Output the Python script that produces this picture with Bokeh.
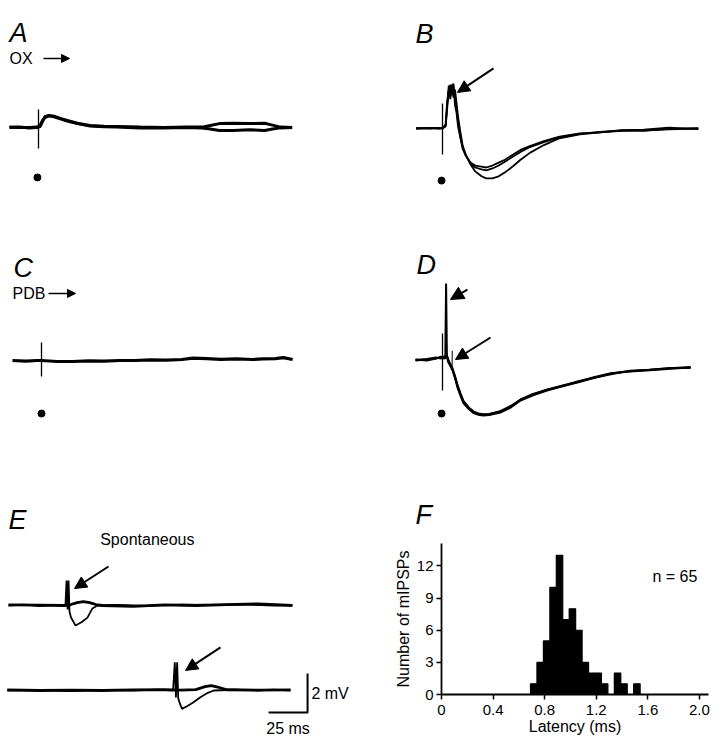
from bokeh.plotting import figure
from bokeh.layouts import column, row
from bokeh.models import Range1d, Arrow, NormalHead, FixedTicker
from bokeh.core.properties import value
from bokeh.embed import file_html
from bokeh.resources import INLINE

# ---------------- data (time in ms from stimulus, voltage in mV from baseline) -------------
# Panel A (OX stimulation)
A_t = [-18.6, -12, -6, -1, 1, 2.5, 4, 6.6, 10, 14, 18.4, 25, 33, 42, 50, 65, 80, 95, 105, 110,
       116, 125, 135, 145, 150, 155, 162.6]
A_v1 = [0, 0.03, -0.02, 0, 0.05, 0.3, 0.55, 0.62, 0.58, 0.47, 0.36, 0.22, 0.1, 0.06, 0.05, 0.02,
        0, 0.03, 0.02, 0.1, 0.2, 0.22, 0.2, 0.22, 0.12, 0.02, 0]
A_v2 = [0.02, 0, 0, 0.02, 0.08, 0.35, 0.5, 0.6, 0.55, 0.44, 0.33, 0.2, 0.08, 0.04, 0.02, -0.02,
        -0.02, 0, -0.03, -0.08, -0.15, -0.15, -0.12, -0.15, -0.08, -0.02, 0]
A_artifact = [0.92, -1.08]

# Panel B (OX stimulation, three sweeps)
B_t = [-17, -8, -2, 0, 2, 3, 4, 5, 6, 7, 8, 9, 10, 11.5, 13, 15, 18, 21, 25, 28, 32, 36, 40, 45,
       50, 56, 65, 75, 88, 101, 115, 129, 145, 164]
B_v1 = [0, 0.03, 0, 0.02, 0.1, 1.0, 2.2, 1.5, 2.25, 1.6, 2.0, 1.3, 0.6, -0.2, -0.9, -1.35, -1.85,
        -2.2, -2.45, -2.56, -2.56, -2.45, -2.25, -1.95, -1.6, -1.25, -0.85, -0.5, -0.3, -0.2,
        -0.12, -0.1, -0.05, 0]
B_v2 = [0.02, 0, 0.03, 0, 0.15, 1.2, 1.9, 2.25, 1.7, 2.2, 1.5, 1.0, 0.3, -0.4, -1.0, -1.4, -1.8,
        -2.0, -2.1, -2.15, -2.05, -1.9, -1.7, -1.45, -1.2, -0.95, -0.7, -0.45, -0.28, -0.18, -0.1,
        -0.12, -0.02, 0.02]
B_v3 = [0, 0.02, 0, 0.03, 0.2, 1.4, 2.0, 1.7, 2.1, 2.3, 1.2, 0.8, 0.1, -0.5, -1.05, -1.4, -1.75,
        -1.9, -1.95, -2.0, -1.9, -1.75, -1.6, -1.35, -1.1, -0.9, -0.65, -0.42, -0.25, -0.2, -0.08,
        -0.06, 0.04, -0.03]
B_artifact = [1.28, -1.33]

# Panel C (PDB stimulation)
C_t = [-18.6, -10, -3, 0, 10, 20, 30, 40, 50, 60, 70, 80, 90, 97, 106, 115, 125, 135, 142, 150,
       155, 161]
C_v = [0, -0.03, 0, 0, -0.05, -0.05, -0.02, -0.03, 0, 0, 0.03, 0.02, 0.05, 0.12, 0.1, 0.06, 0.08,
       0.05, 0.08, 0.1, 0.15, 0.05]
C_artifact = [0.92, -0.82]

# Panel D (PDB stimulation, three sweeps)
D_t = [-17.3, -10, -4, -1, 0.5, 1.8, 2.3, 2.8, 3.5, 4.5, 6.4, 8, 9.6, 11.5, 13.5, 17, 20, 23, 26,
       30, 37, 44, 50, 58, 67, 77, 86.5, 97, 108, 120, 133, 146, 159]
D_v1 = [0, 0.05, 0.12, 0.15, 0.1, 0.2, 3.95, 0.3, -0.05, -0.2, -0.5, -0.9, -1.38, -1.8, -2.2,
        -2.5, -2.7, -2.78, -2.82, -2.8, -2.67, -2.4, -2.05, -1.78, -1.54, -1.32, -1.13, -0.9,
        -0.67, -0.57, -0.5, -0.42, -0.36]
D_v2 = [0.05, 0, 0.1, 0.2, 0.15, 0.1, 0.4, 0.2, 0.1, -0.15, -0.45, -0.85, -1.3, -1.72, -2.12,
        -2.45, -2.65, -2.74, -2.78, -2.75, -2.6, -2.32, -2.0, -1.72, -1.5, -1.28, -1.1, -0.86,
        -0.65, -0.55, -0.47, -0.4, -0.33]
D_v3 = [0.02, 0.08, 0.15, 0.1, 0.2, 0.15, 0.3, 0.25, 0.05, -0.1, -0.4, -0.8, -1.25, -1.68, -2.08,
        -2.42, -2.62, -2.72, -2.76, -2.74, -2.62, -2.36, -2.02, -1.75, -1.5, -1.3, -1.08, -0.88,
        -0.7, -0.52, -0.48, -0.38, -0.38]
D_artifact = [1.38, -1.54]
D_small_spike_t = [6.2]
D_small_spike_top = [0.5]
D_small_spike_bottom = [-0.4]

# Panel E (spontaneous events), time from start of sweep
E1_t = [0, 10, 20, 30, 36.5, 37.2, 37.9, 38.5, 39.1, 40, 43, 47, 50.6, 53.8, 57, 70, 90, 110,
        130, 150, 170, 182]
E1_v = [0, 0.05, -0.03, 0.02, 0, 1.28, -0.2, 1.28, -0.3, -0.6, -1.03, -0.85, -0.62, -0.15, 0,
        0.03, -0.02, 0.04, 0.03, 0.06, 0, 0.02]
E2_t = [0, 20, 36, 40, 44, 48, 52, 56, 60, 80, 100, 120, 140, 160, 182]
E2_v = [0.03, 0.02, 0, 0.05, 0.15, 0.2, 0.15, 0.05, 0, -0.04, 0.03, 0, 0.05, 0.08, 0]
E3_t = [-0.8, 20, 40, 60, 80, 95, 105.5, 106.6, 107.3, 108.1, 108.8, 110, 111.3, 115, 118.6,
        123, 127, 131.6, 145, 160, 170, 180.8]
E3_v = [0, 0.02, -0.03, 0.03, 0, 0.05, 0, 1.45, -0.36, 1.45, -0.4, -0.7, -0.94, -0.78, -0.6,
        -0.35, -0.15, 0, 0.04, 0, 0.05, 0]
E4_t = [-0.8, 20, 40, 60, 80, 100, 110, 120, 126, 130, 134, 140, 160, 180.8]
E4_v = [0.03, 0, 0.02, 0, 0.03, 0.05, 0.02, 0.05, 0.2, 0.25, 0.18, 0.04, 0.02, 0.03]
E_bottom_offset = -4.36
scale_ms = 25
scale_mV = 2

# Panel F (latency histogram)
bin_left = [0.69, 0.74, 0.79, 0.84, 0.89, 0.94, 0.99, 1.04, 1.09, 1.14, 1.19, 1.24, 1.29, 1.34,
            1.39, 1.44, 1.49]
bin_width = 0.05
counts = [1, 3, 5, 10, 13, 7, 8, 6, 3, 2, 2, 1, 0, 2, 1, 0, 1]
x_ticks = [0, 0.4, 0.8, 1.2, 1.6, 2.0]
y_ticks = [0, 3, 6, 9, 12]

# ---------------- layout helpers ----------------
PX_MS = 1.56   # pixels per ms
PX_MV = 19.5   # pixels per mV
FONT = "Liberation Sans"
LETTER = "27px"


def trace_panel(ox, oy, w, h, t0x, base_y):
    x0 = (ox - t0x) / PX_MS
    y1 = (base_y - oy) / PX_MV
    p = figure(width=w, height=h,
               x_range=Range1d(x0, x0 + w / PX_MS),
               y_range=Range1d(y1 - h / PX_MV, y1),
               x_axis_type=None, y_axis_type=None,
               toolbar_location=None, output_backend="svg",
               min_border=0, outline_line_color=None,
               background_fill_color="white", border_fill_color="white")
    return p


def letter(p, t, v, s):
    p.text(x=[t], y=[v], text=[s], text_font=value(FONT), text_font_style="italic",
           text_font_size=LETTER, text_color="black", text_align="left",
           text_baseline="alphabetic")


def label(p, t, v, s, size="16px", align="left", baseline="middle"):
    p.text(x=[t], y=[v], text=[s], text_font=value(FONT), text_font_size=size,
           text_color="black", text_align=align, text_baseline=baseline)


def arrow(p, xs, ys, xe, ye, size=12, lw=2):
    p.add_layout(Arrow(end=NormalHead(size=size, fill_color="black", line_color="black",
                                      line_width=1),
                       x_start=xs, y_start=ys, x_end=xe, y_end=ye,
                       line_color="black", line_width=lw))


def artifact(p, t, ends, lw=1.3):
    p.segment(x0=[t], y0=[ends[0]], x1=[t], y1=[ends[1]], line_color="black", line_width=lw)


def dot(p, t, v):
    p.scatter(x=[t], y=[v], size=7, color="black")


# ---- Panel A ----
pA = trace_panel(0, 0, 361, 238, 38, 127)
letter(pA, -18.6, 4.87, "A")
label(pA, -18.6, 3.54, "OX")
arrow(pA, 3.2, 3.54, 19.9, 3.54, size=8, lw=1.5)
artifact(pA, 0, A_artifact)
pA.line(A_t, A_v1, line_color="black", line_width=3)
pA.line(A_t, A_v2, line_color="black", line_width=3)
dot(pA, -0.7, -2.56)

# ---- Panel B ----
pB = trace_panel(361, 0, 361, 238, 442, 128)
letter(pB, -17.3, 4.87, "B")
artifact(pB, 0, B_artifact)
for v in (B_v1, B_v2, B_v3):
    pB.line(B_t, v, line_color="black", line_width=1.8)
arrow(pB, 32.7, 3.08, 9.6, 1.85)
dot(pB, -0.6, -2.67)

# ---- Panel C ----
pC = trace_panel(0, 238, 361, 230, 41, 360)
letter(pC, -17.9, 4.72, "C")
label(pC, -18.6, 3.44, "PDB")
arrow(pC, 4.5, 3.44, 21.8, 3.44, size=8, lw=1.5)
artifact(pC, 0, C_artifact)
pC.line(C_t, C_v, line_color="black", line_width=3.2)
dot(pC, 0, -2.72)

# ---- Panel D ----
pD = trace_panel(361, 238, 361, 230, 442, 360)
letter(pD, -16.7, 4.92, "D")
artifact(pD, 0, D_artifact)
pD.segment(x0=D_small_spike_t, y0=D_small_spike_top, x1=D_small_spike_t, y1=D_small_spike_bottom,
           line_color="black", line_width=1)
for v in (D_v1, D_v2, D_v3):
    pD.line(D_t, v, line_color="black", line_width=2)
arrow(pD, 16, 3.64, 5.1, 3.13, size=13)
arrow(pD, 30.8, 1.18, 8.3, 0.05)
dot(pD, -0.6, -2.72)

# ---- Panel E ----
pE = trace_panel(0, 468, 361, 280, 8, 605)
letter(pE, 0, 4.36, "E")
label(pE, 89, 3.38, "Spontaneous", size="16px", align="center")
pE.line(E2_t, E2_v, line_color="black", line_width=2.8)
pE.line(E1_t, E1_v, line_color="black", line_width=1.8)
pE.line(E4_t, [v + E_bottom_offset for v in E4_v], line_color="black", line_width=2.8)
pE.line(E3_t, [v + E_bottom_offset for v in E3_v], line_color="black", line_width=1.8)
arrow(pE, 64.1, 2.0, 42.3, 0.87)
arrow(pE, 135.9, -2.15, 113.5, -3.33)
# scale bar
sb_x = 191.7
sb_y = -5.49
pE.line([sb_x - scale_ms, sb_x, sb_x], [sb_y, sb_y, sb_y + scale_mV], line_color="black",
        line_width=2)
label(pE, sb_x + 2.5, sb_y + scale_mV / 2, "%d mV" % scale_mV, size="16px")
label(pE, sb_x - scale_ms / 2, sb_y - 0.8, "%d ms" % scale_ms, size="16px", align="center")

# ---- Panel F ----
pF = figure(width=361, height=280, x_range=Range1d(0, 2.07), y_range=Range1d(0, 14.1),
            toolbar_location=None, output_backend="svg",
            min_border_left=80, min_border_right=14, min_border_top=75, min_border_bottom=54,
            outline_line_color=None, background_fill_color="white", border_fill_color="white")
pF.grid.visible = False
pF.quad(left=bin_left, right=[b + bin_width for b in bin_left], bottom=0, top=counts,
        fill_color="black", line_color="black", line_width=1.2)
pF.xaxis.ticker = FixedTicker(ticks=x_ticks)
pF.xaxis.major_label_overrides = {0: "0", 2: "2.0", 2.0: "2.0"}
pF.yaxis.ticker = FixedTicker(ticks=y_ticks)
pF.xaxis.axis_label = "Latency (ms)"
pF.yaxis.axis_label = "Number of mIPSPs"
for ax in (pF.xaxis[0], pF.yaxis[0]):
    ax.axis_line_color = "black"
    ax.axis_line_width = 1.8
    ax.major_tick_line_color = "black"
    ax.major_tick_line_width = 1.5
    ax.major_tick_out = 5
    ax.major_tick_in = 0
    ax.minor_tick_line_color = None
    ax.major_label_text_font = FONT
    ax.major_label_text_font_size = "15px"
    ax.major_label_text_color = "black"
    ax.axis_label_text_font = FONT
    ax.axis_label_text_font_size = "16px"
    ax.axis_label_text_font_style = "normal"
    ax.axis_label_text_color = "black"
pF.xaxis.major_label_standoff = 5
pF.xaxis.axis_label_standoff = 0
pF.yaxis.major_label_standoff = 3
pF.yaxis.axis_label_standoff = 2
pF.title.text = "F"
pF.title.text_font = FONT
pF.title.text_font_style = "italic"
pF.title.text_font_size = LETTER
pF.title.text_color = "black"
pF.title.align = "left"
pF.title.offset = -26
pF.title.standoff = 27
pF.text(x=[1.635], y=[11.0], text=["n = 65"], text_font=value(FONT), text_font_size="16px",
        text_color="black", text_baseline="middle")

layout = column(row(pA, pB), row(pC, pD), row(column(pE), column(pF)))
open("out.html", "w").write(file_html(layout, INLINE))
